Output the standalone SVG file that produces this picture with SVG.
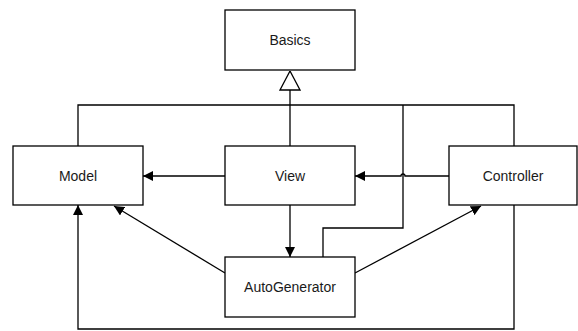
<svg xmlns="http://www.w3.org/2000/svg" width="578" height="331" viewBox="0 0 578 331">
  <style>
    .box { fill: #ffffff; stroke: #000000; stroke-width: 1.3; }
    .lbl { font-family: "Liberation Sans", Arial, sans-serif; font-size: 14px; fill: #1a1a1a; text-anchor: middle; dominant-baseline: central; }
    .wire { fill: none; stroke: #000000; stroke-width: 1.3; }
  </style>
  <defs>
    <marker id="arrow" viewBox="0 0 10 10" refX="10" refY="5" markerWidth="10" markerHeight="10" markerUnits="userSpaceOnUse" orient="auto">
      <path d="M0,0 L10,5 L0,10 Z" fill="#000000"/>
    </marker>
    <marker id="inherit" viewBox="0 0 20 22" refX="20" refY="11" markerWidth="20" markerHeight="22" markerUnits="userSpaceOnUse" orient="auto">
      <path d="M1,1 L20,11 L1,21 Z" fill="#ffffff" stroke="#000000" stroke-width="1.3"/>
    </marker>
  </defs>

  <g id="connectors">
    <!-- generalisation to Basics -->
    <path class="wire" d="M290,146 L290,71" marker-end="url(#inherit)"/>
    <path class="wire" d="M78,146 L78,105 L514,105 L514,146"/>
    <!-- AutoGenerator up to the shared bus -->
    <path class="wire" d="M323,257 L323,228 L403,228 L403,105"/>
    <!-- View to Model -->
    <path class="wire" d="M225,176 L143,176" marker-end="url(#arrow)"/>
    <!-- Controller to View, hopping over the vertical wire -->
    <path class="wire" d="M449,176 L405,176 A2,2 0 0 0 401,176 L355,176" marker-end="url(#arrow)"/>
    <!-- View to AutoGenerator -->
    <path class="wire" d="M290,205 L290,257" marker-end="url(#arrow)"/>
    <!-- AutoGenerator to Model and Controller -->
    <path class="wire" d="M225,273 L114,206" marker-end="url(#arrow)"/>
    <path class="wire" d="M355,273 L481,206" marker-end="url(#arrow)"/>
    <!-- Controller round the bottom to Model -->
    <path class="wire" d="M514,205 L514,329 L78,329 L78,205" marker-end="url(#arrow)"/>
  </g>

  <g id="basics">
    <rect class="box" x="225" y="10" width="130" height="60"/>
    <text class="lbl" x="290" y="40">Basics</text>
  </g>
  <g id="model">
    <rect class="box" x="13" y="146" width="130" height="59"/>
    <text class="lbl" x="78" y="176">Model</text>
  </g>
  <g id="view">
    <rect class="box" x="225" y="146" width="130" height="59"/>
    <text class="lbl" x="290" y="176">View</text>
  </g>
  <g id="controller">
    <rect class="box" x="449" y="146" width="128" height="59"/>
    <text class="lbl" x="513" y="176">Controller</text>
  </g>
  <g id="autogenerator">
    <rect class="box" x="225" y="257" width="130" height="60"/>
    <text class="lbl" x="290" y="287">AutoGenerator</text>
  </g>
</svg>
